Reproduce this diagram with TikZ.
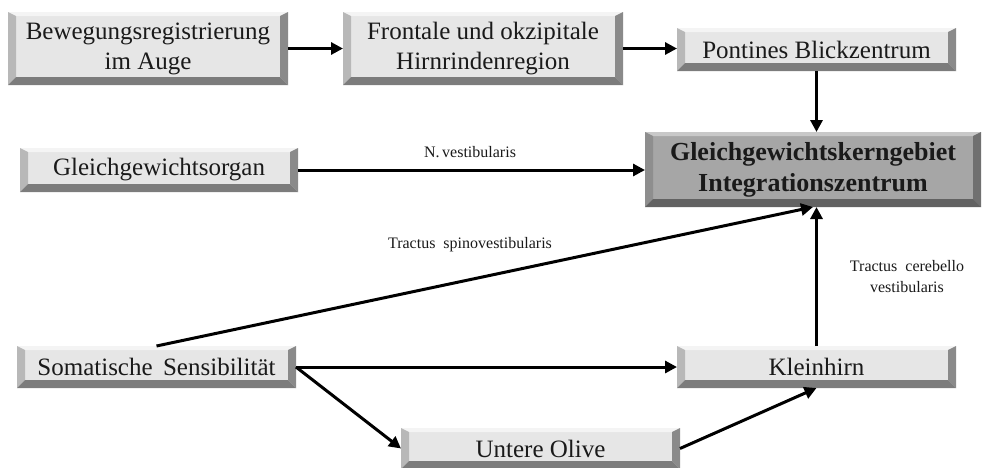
\documentclass[tikz,border=0pt]{standalone}
\usepackage{fontspec}
\setmainfont{Liberation Serif}
\usetikzlibrary{arrows.meta,calc}

% bevelled button colours
\definecolor{faceL}{HTML}{E6E6E6}
\definecolor{topL}{HTML}{F4F4F4}
\definecolor{leftL}{HTML}{B8B8B8}
\definecolor{rightL}{HTML}{8A8A8A}
\definecolor{bottomL}{HTML}{7C7C7C}
\definecolor{faceD}{HTML}{A6A6A6}
\definecolor{topD}{HTML}{C8C8C8}
\definecolor{leftD}{HTML}{8E8E8E}
\definecolor{rightD}{HTML}{707070}
\definecolor{bottomD}{HTML}{626262}
\definecolor{ink}{HTML}{1A1A1A}

\begin{document}
\begin{tikzpicture}[x=1pt,y=-1pt,
  bevel/.style n args={4}{
    path picture={
      \coordinate (bvSW) at (path picture bounding box.south west);
      \coordinate (bvNE) at (path picture bounding box.north east);
      \coordinate (bvNW) at (bvSW|-bvNE);
      \coordinate (bvSE) at (bvNE|-bvSW);
      \fill[#1] (bvNW) -- (bvNE) -- ($(bvNE)+(-8pt,-4pt)$) -- ($(bvNW)+(8pt,-4pt)$) -- cycle;
      \fill[#2] (bvNW) -- ($(bvNW)+(8pt,-4pt)$) -- ($(bvSW)+(8pt,8pt)$) -- (bvSW) -- cycle;
      \fill[#3] (bvNE) -- ($(bvNE)+(-8pt,-4pt)$) -- ($(bvSE)+(-8pt,8pt)$) -- (bvSE) -- cycle;
      \fill[#4] (bvSW) -- ($(bvSW)+(8pt,8pt)$) -- ($(bvSE)+(-8pt,8pt)$) -- (bvSE) -- cycle;
    }},
  lightbox/.style={rectangle, fill=faceL, inner sep=0pt, outer sep=0pt,
    align=center, text=ink, font=\fontsize{25}{30}\selectfont,
    bevel={topL}{leftL}{rightL}{bottomL}},
  darkbox/.style={rectangle, fill=faceD, inner sep=0pt, outer sep=0pt,
    align=center, text=ink, font=\fontsize{26}{31}\selectfont\bfseries,
    bevel={topD}{leftD}{rightD}{bottomD}},
  conn/.style={line width=3pt, black, -{Triangle[length=12pt,width=12pt]}},
  tag/.style={text=ink, align=center, font=\fontsize{16}{21}\selectfont}
]
\useasboundingbox (0,0) rectangle (982,467);

% boxes
\node[lightbox, minimum width=280pt, minimum height=73pt] (auge) at (148,48.5)
  {Bewegungsregistrierung\\im Auge};
\node[lightbox, minimum width=280pt, minimum height=73pt] (rinde) at (483,48.5)
  {Frontale und okzipitale\\Hirnrindenregion};
\node[lightbox, minimum width=279pt, minimum height=43pt] (pons) at (816.5,49.5)
  {Pontines Blickzentrum};
\node[darkbox, minimum width=336pt, minimum height=75pt] (kern) at (813,169.5)
  {Gleichgewichtskerngebiet\\Integrationszentrum};
\node[lightbox, minimum width=278pt, minimum height=44pt] (organ) at (159,170)
  {Gleichgewichtsorgan};
\node[lightbox, minimum width=279pt, minimum height=42pt] (soma) at (156.5,367)
  {Somatische\, Sensibilität};
\node[lightbox, minimum width=279pt, minimum height=42pt] (klein) at (816.5,367)
  {Kleinhirn};
\node[lightbox, minimum width=279pt, minimum height=41pt] (olive) at (540.5,448.5)
  {Untere Olive};

% connectors
\draw[conn] (auge.east) -- (rinde.west);
\draw[conn] (rinde.east) -- (rinde.east-|pons.west);
\draw[conn] (pons.south) -- (pons.south|-kern.north);
\draw[conn] (organ.east) -- (organ.east-|kern.west);
\coordinate (spinoEnd) at (kern.south);
\draw[conn] (soma.north) -- (spinoEnd);
\draw[conn] (klein.north) -- (klein.north|-kern.south);
\draw[conn] (soma.east) -- (klein.west);
\draw[conn] (soma.east) -- (olive.west);
\draw[conn] (olive.east) -- (klein.south);

% tract labels
\node[tag] (nv) at (470,152) {N.\,vestibularis};
\node[tag] (ts) at (470,245) {Tractus\ \ spinovestibularis};
\node[tag] (tc) at (907,277) {Tractus\ \ cerebello\\vestibularis};
\end{tikzpicture}
\end{document}
